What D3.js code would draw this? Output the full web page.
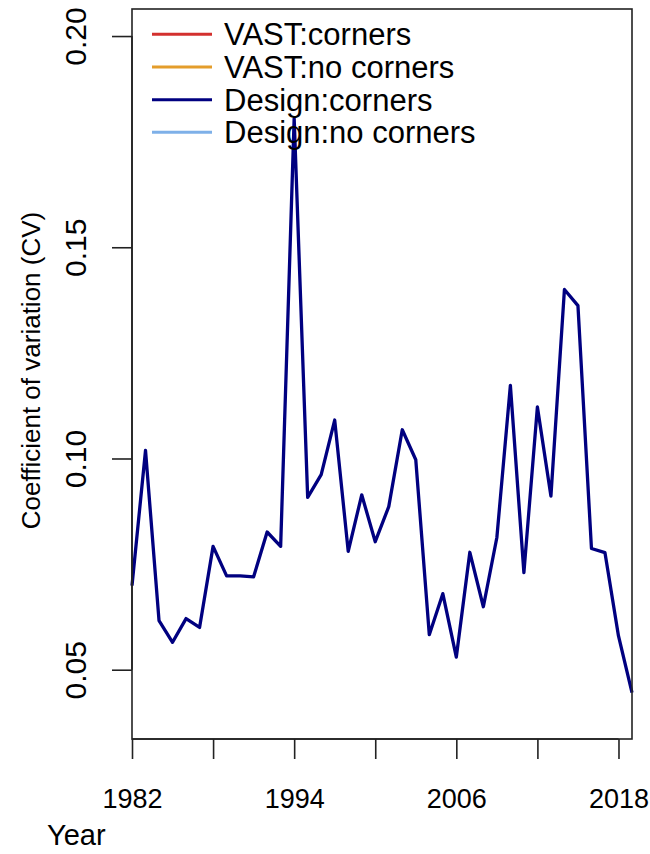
<!DOCTYPE html>
<html>
<head>
<meta charset="utf-8">
<script src="https://cdn.jsdelivr.net/npm/d3@7"></script>
<style>
  body { margin: 0; background: #fff; }
  svg { display: block; font-family: "Liberation Sans", Arial, Helvetica, sans-serif; }
</style>
</head>
<body>
<svg id="chart" width="650" height="854"></svg>
<script>
// years on the x axis
const years = [1982, 1983, 1984, 1985, 1986, 1987, 1988, 1989, 1990, 1991,
  1992, 1993, 1994, 1995, 1996, 1997, 1998, 1999, 2000, 2001,
  2002, 2003, 2004, 2005, 2006, 2007, 2008, 2009, 2010, 2011,
  2012, 2013, 2014, 2015, 2016, 2017, 2018, 2019];

// CV for Design:corners (the only visible series)
const designCorners = [0.0699, 0.1019, 0.0616, 0.0565, 0.0621, 0.0600, 0.0792, 0.0722, 0.0722, 0.0720,
  0.0826, 0.0792, 0.1805, 0.0908, 0.0962, 0.1091, 0.0780, 0.0914, 0.0803, 0.0886,
  0.1068, 0.0997, 0.0583, 0.0680, 0.0530, 0.0778, 0.0649, 0.0813, 0.1173, 0.0730,
  0.1122, 0.0911, 0.1400, 0.1362, 0.0787, 0.0777, 0.0580, 0.0446];

const legendLabels = ["VAST:corners", "VAST:no corners", "Design:corners", "Design:no corners"];
const legendColors = ["#d3302e", "#e49d2b", "#000080", "#7eb0e8"];

const xTicks = [1982, 1988, 1994, 2000, 2006, 2012, 2018];
const xTickLabels = ["1982", "", "1994", "", "2006", "", "2018"];
const yTicks = [0.05, 0.10, 0.15, 0.20];

const svg = d3.select("#chart");
const plotL = 132, plotR = 632, plotT = 9, plotB = 739;

// R style: ylim c(0.04, 0.2) padded by 4%
const yMin = 0.04, yMax = 0.20, pad = (yMax - yMin) * 0.04;
const x = d3.scaleLinear().domain([1982, 2019]).range([plotL, plotR]);
const y = d3.scaleLinear().domain([yMin - pad, yMax + pad]).range([plotB, plotT]);

// data line
const line = d3.line().x((d, i) => x(years[i])).y(d => y(d));
svg.append("path")
  .datum(designCorners)
  .attr("fill", "none")
  .attr("stroke", legendColors[2])
  .attr("stroke-width", 3.3)
  .attr("stroke-linejoin", "round")
  .attr("d", line);

// box
svg.append("rect")
  .attr("x", plotL).attr("y", plotT)
  .attr("width", plotR - plotL).attr("height", plotB - plotT)
  .attr("fill", "none").attr("stroke", "#222").attr("stroke-width", 1.6);

// x axis
const xAxis = d3.axisBottom(x)
  .tickValues(xTicks)
  .tickFormat((d, i) => xTickLabels[i])
  .tickSize(20)
  .tickPadding(30)
  .tickSizeOuter(0);
const gx = svg.append("g").attr("transform", `translate(0,${plotB})`).call(xAxis);
gx.select(".domain").attr("d", `M${x(1982)},0H${x(2018)}`);
gx.selectAll("path, line").attr("stroke", "#222").attr("stroke-width", 1.6);
gx.selectAll("text").attr("fill", "#000").style("font-size", "27px");

// y axis, labels rotated like R's default
const yAxis = d3.axisLeft(y)
  .tickValues(yTicks)
  .tickFormat(d3.format(".2f"))
  .tickSize(20)
  .tickSizeOuter(0);
const gy = svg.append("g").attr("transform", `translate(${plotL},0)`).call(yAxis);
gy.select(".domain").attr("d", `M0,${y(0.05)}V${y(0.20)}`);
gy.selectAll("path, line").attr("stroke", "#222").attr("stroke-width", 1.6);
gy.selectAll("text")
  .attr("fill", "#000")
  .attr("x", null).attr("dy", null)
  .attr("text-anchor", "middle")
  .attr("transform", "translate(-46,0) rotate(-90)")
  .style("font-size", "30px");

// axis titles
svg.append("text")
  .attr("transform", `translate(40,${(208 + 533) / 2}) rotate(-90)`)
  .attr("text-anchor", "middle")
  .style("font-size", "26px")
  .text("Coefficient of variation (CV)");

svg.append("text")
  .attr("x", 47).attr("y", 845)
  .style("font-size", "29px")
  .text("Year");

// legend (no box)
const lg = svg.append("g");
const rowY = d3.scaleLinear().domain([0, 3]).range([34.3, 132.3]);
legendLabels.forEach((lab, i) => {
  lg.append("line")
    .attr("x1", 152).attr("x2", 212)
    .attr("y1", rowY(i)).attr("y2", rowY(i))
    .attr("stroke", legendColors[i]).attr("stroke-width", 3);
  lg.append("text")
    .attr("x", 224).attr("y", rowY(i) + 11)
    .style("font-size", "31px")
    .text(lab);
});
</script>
</body>
</html>
